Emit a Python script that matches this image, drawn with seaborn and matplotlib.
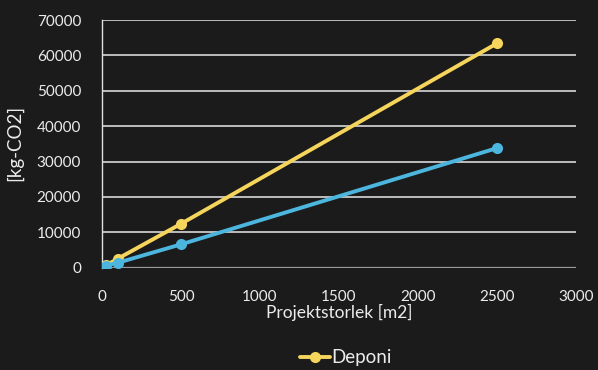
import matplotlib
matplotlib.use("Agg")
import matplotlib.pyplot as plt
import seaborn as sns
import pandas as pd

# Data
project_size = [25, 100, 500, 2500]
deponi = [640, 2550, 12400, 63400]
other = [600, 1400, 6600, 33800]
x_ticks = [0, 500, 1000, 1500, 2000, 2500, 3000]
y_ticks = [0, 10000, 20000, 30000, 40000, 50000, 60000, 70000]

sns.set_theme(style="dark")
plt.rcParams['font.family'] = ['Lato', 'DejaVu Sans']

bg = "#1b1b1b"
fg = "#ececec"
yellow = "#f5d55c"
blue = "#4cb6df"

fig = plt.figure(figsize=(5.98, 3.70), dpi=100, facecolor=bg)
ax = fig.add_axes([102/598, 1-267.7/370, (576-102)/598, (267.7-20)/370])
ax.set_facecolor(bg)

df = pd.DataFrame({"x": project_size, "Deponi": deponi, "Other": other})

for yv in y_ticks[1:]:
    ax.axhline(yv, color="#d8d8d8", lw=1.2, zorder=1)
ax.axhline(0, color="#9a9a9a", lw=1.6, zorder=1)

sns.lineplot(data=df, x="x", y="Other", ax=ax, color=blue, lw=2.8,
             marker="o", markersize=8, markeredgewidth=0, zorder=3, label="_nolegend_")
sns.lineplot(data=df, x="x", y="Deponi", ax=ax, color=yellow, lw=2.8,
             marker="o", markersize=8, markeredgewidth=0, zorder=2, label="Deponi")

ax.set_xlim(0, 3000)
ax.set_ylim(0, 70000)
ax.set_xticks(x_ticks)
ax.set_yticks(y_ticks)
ax.set_xticklabels([str(v) for v in x_ticks], color=fg, fontsize=11)
ax.set_yticklabels([str(v) for v in y_ticks], color=fg, fontsize=11)
ax.tick_params(axis="x", length=0, pad=16)
ax.tick_params(axis="y", length=0, pad=15)
ax.grid(False)

for s in ["top", "right", "bottom"]:
    ax.spines[s].set_visible(False)
ax.spines["left"].set_color("#e0e0e0")
ax.spines["left"].set_linewidth(1.0)

ax.set_xlabel("Projektstorlek [m2]", color=fg, fontsize=12.5, labelpad=0)
ax.set_ylabel("[kg-CO2]", color=fg, fontsize=13.5)
ax.yaxis.set_label_coords((23-102)/474, (267.7-143)/247.7)

leg = ax.legend(loc="center", bbox_to_anchor=(346/598, 1-358/370),
                bbox_transform=fig.transFigure, frameon=False,
                fontsize=13.5, handlelength=1.6, handletextpad=0.1)
for t in leg.get_texts():
    t.set_color(fg)

fig.savefig("out.png", dpi=100, facecolor=bg)
